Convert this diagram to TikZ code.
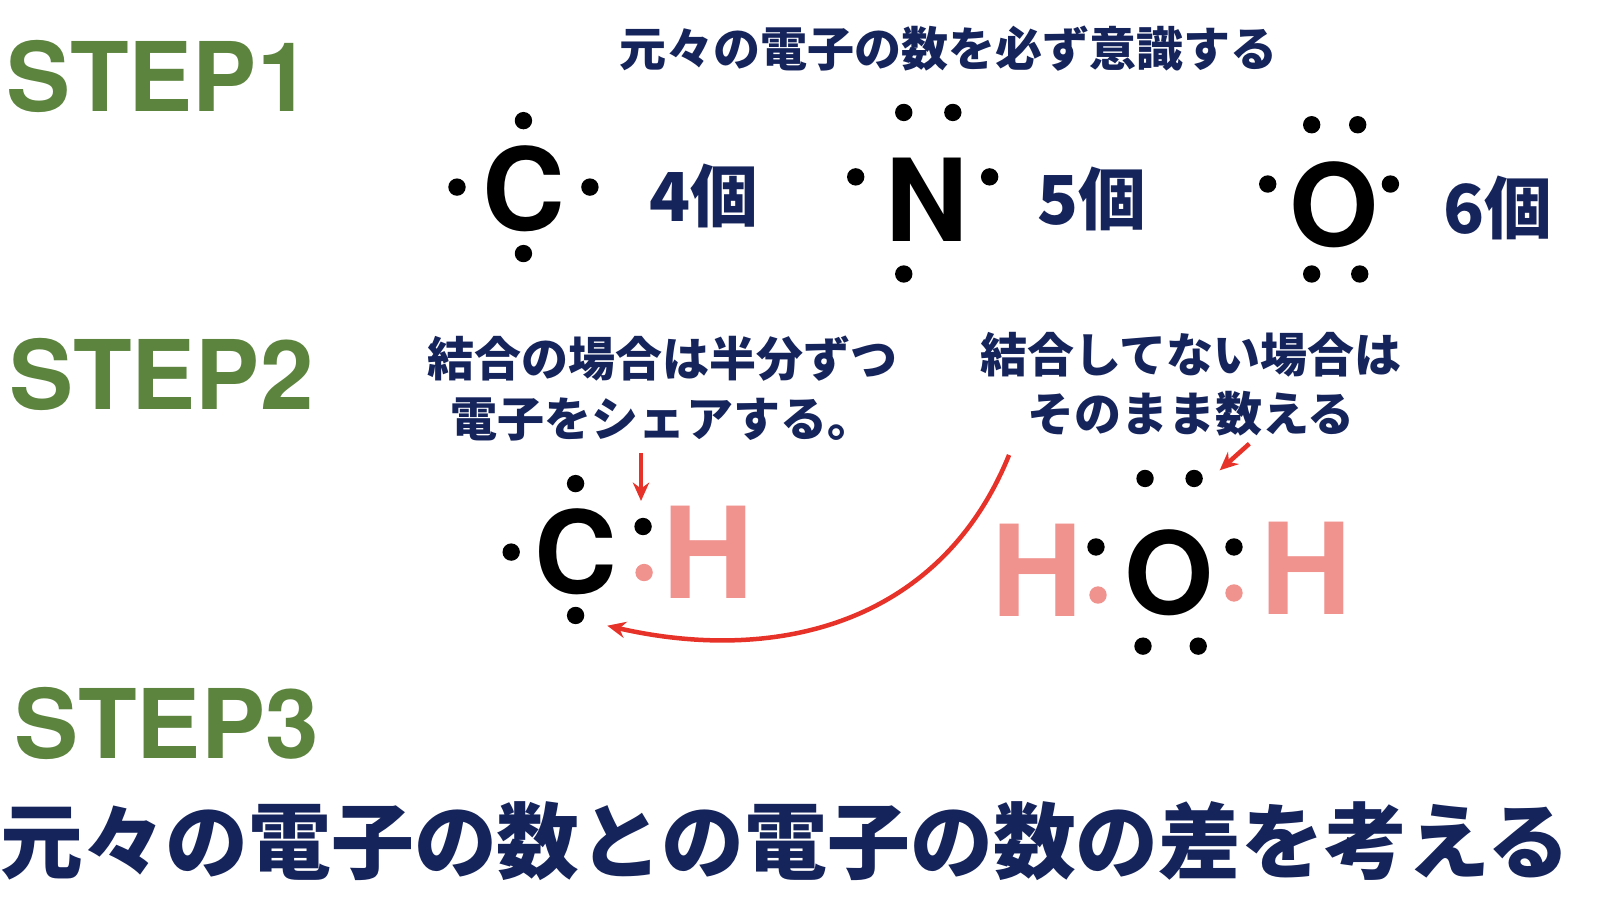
\documentclass[tikz,border=0pt]{standalone}
\usepackage{fontspec}
\setmainfont{TeX Gyre Heros}
\newfontfamily\cjk{Noto Sans CJK JP}
\definecolor{stepg}{RGB}{92,132,62}
\definecolor{navy}{RGB}{22,36,92}
\definecolor{pinkh}{RGB}{240,146,142}
\definecolor{redar}{RGB}{230,50,40}
\usetikzlibrary{arrows.meta}
\begin{document}
\begin{tikzpicture}[x=0.5pt,y=-0.5pt,
 steplbl/.style={font=\bfseries\fontsize{47}{47}\selectfont,text=stepg,inner sep=0},
 jp/.style={font=\cjk\bfseries\fontsize{23}{29}\selectfont,text=navy,align=center,inner sep=0},
 cnt/.style={font=\cjk\bfseries\fontsize{33}{33}\selectfont,text=navy,inner sep=0},
 atom/.style={font=\bfseries\fontsize{56}{56}\selectfont,inner sep=0},
 hatom/.style={atom,font=\bfseries\fontsize{62}{62}\selectfont,text=pinkh},
 ed/.style={circle,fill=black,minimum size=8.5pt,inner sep=0},
 pd/.style={ed,fill=pinkh},
 rarrow/.style={draw=redar,line width=2.2pt,-{Stealth[length=9pt,width=8pt]}}]
\useasboundingbox (0,0) rectangle (1565,884);
\node[steplbl] (s1) at (155,75) {STEP1};
\node[steplbl] (s2) at (158,366) {STEP2};
\node[steplbl] (s3) at (163,708) {STEP3};
\node[jp] (t1) at (928,48) {元々の電子の数を必ず意識する};
% C
\node[atom] (C1) at (512,185) {C};
\foreach \p in {(512,118),(447,183),(577,183),(512,248)} \node[ed] at \p {};
\node[cnt] (n4) at (688,192) {4個};
% N
\node[atom] (N1) at (907,195) {N};
\foreach \p in {(884,110),(932,110),(837,173),(968,173),(884,268)} \node[ed] at \p {};
\node[cnt] (n5) at (1068,195) {5個};
% O
\node[atom] (O1) at (1305,200) {O};
\foreach \p in {(1283,122),(1328,122),(1240,180),(1360,180),(1283,268),(1330,268)} \node[ed] at \p {};
\node[cnt] (n6) at (1465,203) {6個};
% step 2 texts
\node[jp] (t2) at (648,380) {結合の場合は半分ずつ\\電子をシェアする。};
\node[jp] (t3) at (1165,376) {結合してない場合は\\そのまま数える};
% CH
\node[atom] (C2) at (563,540) {C};
\foreach \p in {(563,473),(500,540),(563,602),(629,515)} \node[ed] at \p {};
\node[pd] (pc) at (630,560) {};
\node[hatom] (H1) at (693,540) {H};
\coordinate (a1s) at (627,443);
\coordinate (a1e) at (627,490);
\draw[rarrow] (a1s) -- (a1e);
% HOH
\node[hatom] (H2) at (1015,558) {H};
\node[atom] (O2) at (1143,560) {O};
\node[hatom] (H3) at (1278,556) {H};
\foreach \p in {(1072,535),(1120,468),(1168,468),(1207,535),(1118,632),(1172,632)} \node[ed] at \p {};
\node[pd] at (1074,582) {};
\node[pd] at (1207,580) {};
\coordinate (a2s) at (1222,434);
\coordinate (a2e) at (1193,460);
\draw[rarrow] (a2s) -- (a2e);
\coordinate (cs) at (987,445);
\coordinate (ce) at (594,612);
\draw[rarrow] (cs) .. controls (920,610) and (760,650) .. (ce);
\node[jp,font=\cjk\bfseries\fontsize{40.5}{40.5}\selectfont] (t4) at (768,823) {元々の電子の数との電子の数の差を考える};
\end{tikzpicture}
\end{document}
